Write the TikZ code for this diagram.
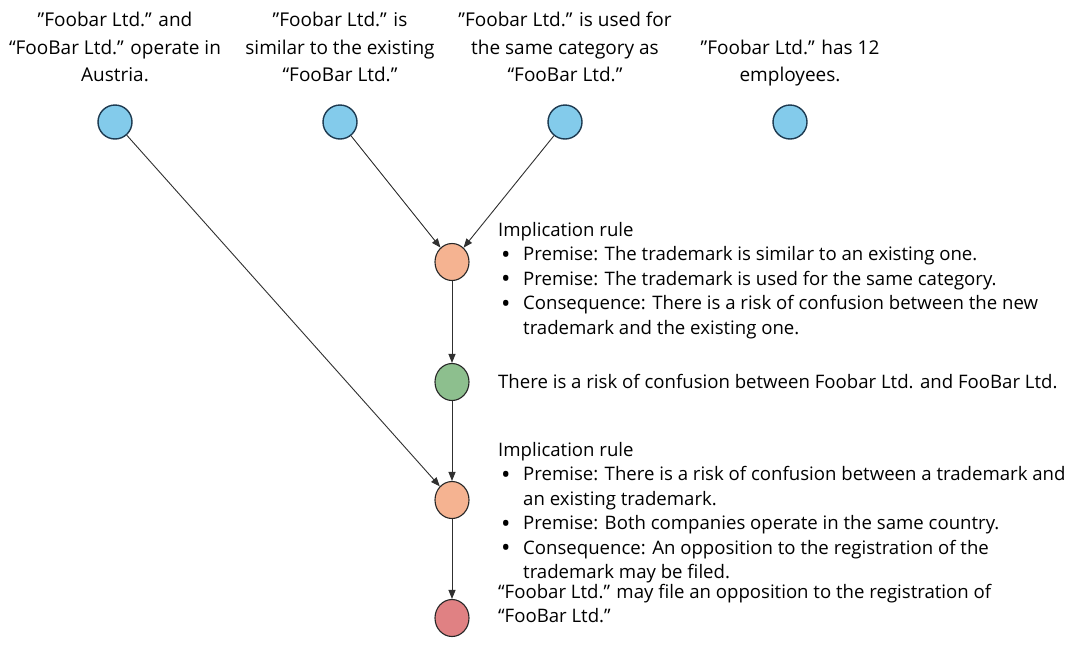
\documentclass[tikz,border=0pt]{standalone}
\usepackage{fontspec}
\setmainfont{Open Sans}
\usetikzlibrary{arrows.meta,shapes.geometric}
\definecolor{cblue}{HTML}{83CBEB}
\definecolor{cblueb}{HTML}{1D3A50}
\definecolor{corange}{HTML}{F5B391}
\definecolor{cgreen}{HTML}{8DBF8E}
\definecolor{cred}{HTML}{E08183}
\definecolor{cline}{HTML}{303030}
\tikzset{
  fact/.style={circle, draw=cblueb, line width=1.4pt, fill=cblue, minimum size=34pt, inner sep=0pt},
  rulenode/.style={ellipse, draw=black!85, line width=1.1pt, fill=corange, minimum width=34pt, minimum height=37pt, inner sep=0pt},
  derived/.style={ellipse, draw=black!85, line width=1.1pt, fill=cgreen, minimum width=34pt, minimum height=37pt, inner sep=0pt},
  goal/.style={ellipse, draw=black!85, line width=1.1pt, fill=cred, minimum width=34pt, minimum height=37pt, inner sep=0pt},
  toplabel/.style={anchor=north, align=center, font=\fontsize{19}{27.5}\selectfont, inner sep=0pt},
  sidetext/.style={anchor=north west, align=left, font=\fontsize{18.6}{24.5}\selectfont, inner sep=0pt},
  conn/.style={draw=cline, line width=0.9pt, -{Triangle[length=9pt,width=7pt]}}
}
\newcommand{\bul}{\makebox[25pt][l]{\hspace{3pt}\raisebox{-2.2pt}{\scalebox{1.35}{\textbullet}}}}
\newcommand{\ind}{\hspace*{25pt}}
\begin{document}
\begin{tikzpicture}[x=1pt,y=-1pt]
\useasboundingbox[fill=white] (0,0) rectangle (1071,651);
% facts
\node[fact] (f1) at (115,122) {};
\node[fact] (f2) at (340,122) {};
\node[fact] (f3) at (565,122) {};
\node[fact] (f4) at (790,122) {};
\node[toplabel] (l1) at (115,12) {”Foobar Ltd.” and\\“FooBar Ltd.” operate in\\Austria.};
\node[toplabel] (l2) at (340,12) {”Foobar Ltd.” is\\similar to the existing\\“FooBar Ltd.”};
\node[toplabel] (l3) at (565,12) {”Foobar Ltd.” is used for\\the same category as\\“FooBar Ltd.”};
\node[toplabel] (l4) at (790,39.5) {”Foobar Ltd.” has 12\\employees.};
% chain
\node[rulenode] (r1) at (452,262) {};
\node[derived] (d1) at (452,382) {};
\node[rulenode] (r2) at (452,500) {};
\node[goal] (g1) at (452,618) {};
% texts
\node[sidetext] (t1) at (498,222) {Implication rule\\
\bul Premise: The trademark is similar to an existing one.\\
\bul Premise: The trademark is used for the same category.\\
\bul Consequence: There is a risk of confusion between the new\\
\ind trademark and the existing one.};
\node[sidetext, anchor=west] (t2) at (498,382) {There is a risk of confusion between Foobar Ltd. and FooBar Ltd.};
\node[sidetext] (t3) at (498,442) {Implication rule\\
\bul Premise: There is a risk of confusion between a trademark and\\
\ind an existing trademark.\\
\bul Premise: Both companies operate in the same country.\\
\bul Consequence: An opposition to the registration of the\\
\ind trademark may be filed.};
\node[sidetext] (t4) at (498,584) {“Foobar Ltd.” may file an opposition to the registration of\\“FooBar Ltd.”};
% connectors
\draw[conn] (f1) -- (r2);
\draw[conn] (f2) -- (r1);
\draw[conn] (f3) -- (r1);
\draw[conn] (r1) -- (d1);
\draw[conn] (d1) -- (r2);
\draw[conn] (r2) -- (g1);
\end{tikzpicture}
\end{document}
